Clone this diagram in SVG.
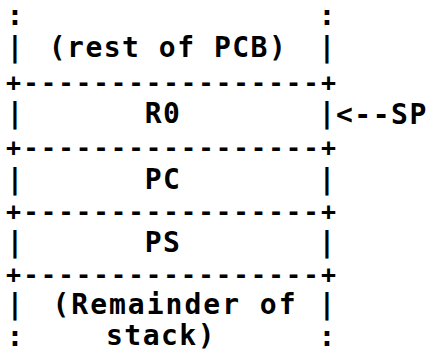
<svg xmlns="http://www.w3.org/2000/svg" width="433" height="352" viewBox="0 0 433 352">
  <style>
    .t { font-family: "DejaVu Sans Mono", "Liberation Mono", monospace; font-weight: bold; font-size: 28px; fill: #000; }
    .rule { font-size: 25px; }
    .c { text-anchor: middle; }
    .lbl { letter-spacing: 1.5px; }
    .wide { letter-spacing: 2px; }
  </style>
  <rect width="433" height="352" fill="#fff"/>

  <!-- top of stack frame (continues upward) -->
  <g id="cell-pcb">
    <text class="t c" x="15" y="25">:</text>
    <text class="t c" x="327" y="25">:</text>
    <text class="t c" x="15" y="57">|</text>
    <text class="t c lbl" x="168" y="57">(rest of PCB)</text>
    <text class="t c" x="327" y="57">|</text>
  </g>

  <!-- horizontal dividers between slots -->
  <g id="dividers">
    <text class="t rule" x="6" y="91" textLength="330" lengthAdjust="spacing">+-----------------+</text>
    <text class="t rule" x="6" y="156" textLength="330" lengthAdjust="spacing">+-----------------+</text>
    <text class="t rule" x="6" y="220" textLength="330" lengthAdjust="spacing">+-----------------+</text>
    <text class="t rule" x="6" y="283" textLength="330" lengthAdjust="spacing">+-----------------+</text>
  </g>

  <g id="cell-r0">
    <text class="t c" x="15" y="123">|</text>
    <text class="t c lbl" x="163" y="123">R0</text>
    <text class="t c" x="327" y="123">|</text>
  </g>

  <g id="cell-pc">
    <text class="t c" x="15" y="189">|</text>
    <text class="t c lbl" x="163" y="189">PC</text>
    <text class="t c" x="327" y="189">|</text>
  </g>

  <g id="cell-ps">
    <text class="t c" x="15" y="252">|</text>
    <text class="t c lbl" x="163" y="252">PS</text>
    <text class="t c" x="327" y="252">|</text>
  </g>

  <!-- bottom of frame (continues downward) -->
  <g id="cell-stack">
    <text class="t c" x="15" y="313.5">|</text>
    <text class="t c wide" x="175" y="313.5">(Remainder of</text>
    <text class="t c" x="327" y="313.5">|</text>
    <text class="t c" x="15" y="346">:</text>
    <text class="t c lbl" x="161" y="345">stack)</text>
    <text class="t c" x="327" y="346">:</text>
  </g>

  <!-- stack pointer arrow -->
  <g id="connectors">
    <text class="t lbl" x="336" y="124">&lt;--SP</text>
  </g>
</svg>
